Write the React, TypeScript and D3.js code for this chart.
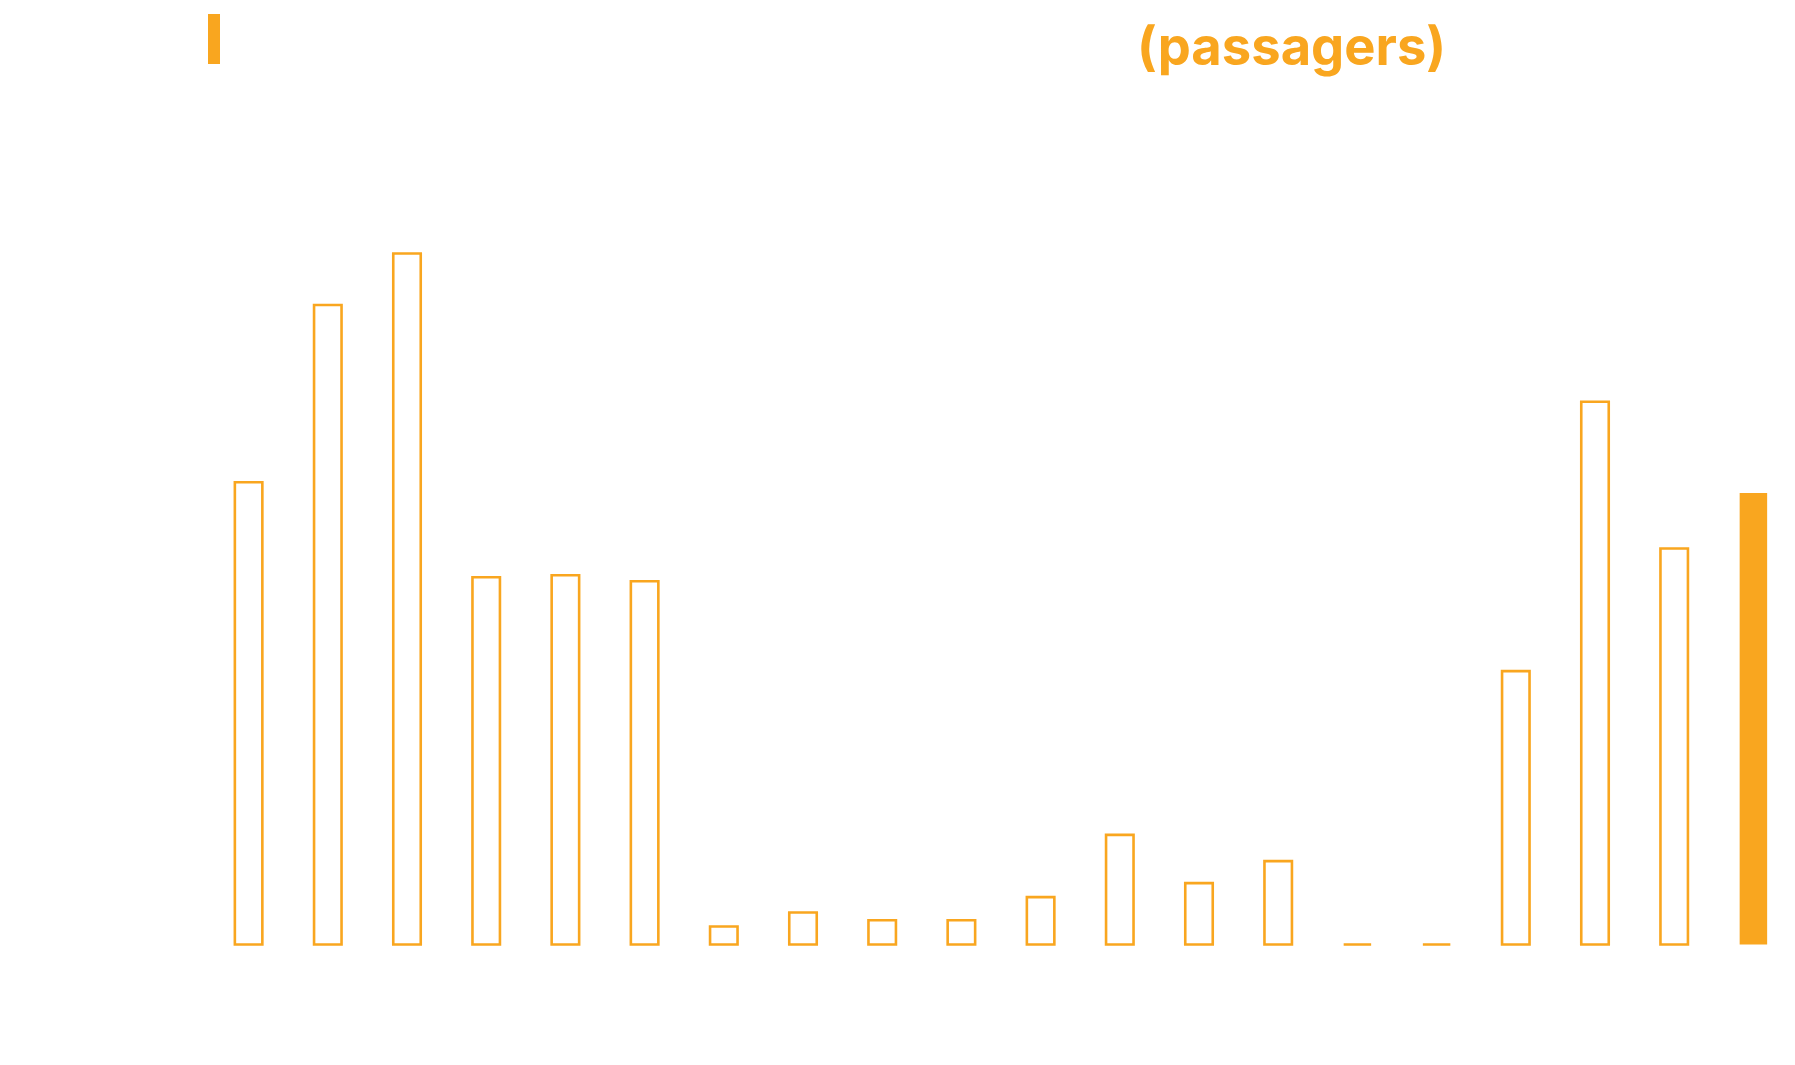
import React from "react";
import * as d3 from "d3";

const months = [
  "M01", "M02", "M03", "M04", "M05", "M06", "M07", "M08", "M09", "M10",
  "M11", "M12", "M13", "M14", "M15", "M16", "M17", "M18", "M19", "M20",
];
const passengers = [
  346700, 479600, 518200, 275400, 276900, 272400, 13500, 24000, 18200, 18200,
  35500, 82200, 46000, 62500, 0, 0, 205000, 407000, 297000, 338600,
];
const highlighted = ["M20"];
const unitLabel = "(passagers)";

const W = 1795;
const H = 1065;
const ORANGE = "#F9A61F";

export default function App() {
  const x = d3
    .scaleBand<string>()
    .domain(months)
    .range([209, 1793])
    .paddingInner(0.653)
    .paddingOuter(0.3265);
  const y = d3.scaleLinear().domain([0, 500000]).range([944.5, 277.8]);
  const bw = x.bandwidth();

  const rectPath = (m: string, v: number) => {
    const p = d3.path();
    const x0 = x(m) as number;
    p.rect(x0, y(v), bw, y(0) - y(v));
    return p.toString();
  };

  return (
    <svg
      width={W}
      height={H}
      style={{ position: "absolute", left: 0, top: 0, background: "#ffffff" }}
    >
      <rect x={0} y={0} width={W} height={H} fill="#ffffff" />
      <rect x={208} y={14} width={12} height={50} fill={ORANGE} />
      <text
        x={1137}
        y={64.5}
        fill={ORANGE}
        fontFamily="Inter, 'Liberation Sans', Arial, sans-serif"
        fontWeight={700}
        fontSize={52.5}
      >
        {unitLabel}
      </text>
      <g>
        {months.map((m, i) => {
          const v = passengers[i];
          const isHi = highlighted.includes(m);
          return isHi ? (
            <path key={m} d={rectPath(m, v)} fill={ORANGE} stroke="none" />
          ) : (
            <path
              key={m}
              d={rectPath(m, v)}
              fill="#ffffff"
              stroke={ORANGE}
              strokeWidth={2.6}
            />
          );
        })}
      </g>
    </svg>
  );
}
